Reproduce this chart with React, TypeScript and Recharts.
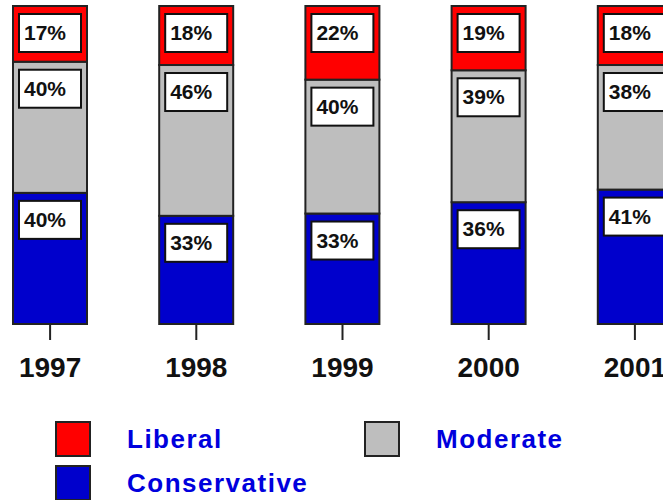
import { Bar, BarChart, XAxis, YAxis } from "recharts";

const years = ["1997", "1998", "1999", "2000", "2001"];
const liberal = [17, 18, 22, 19, 18];
const moderate = [40, 46, 40, 39, 38];
const conservative = [40, 33, 33, 36, 41];

const series = [
  { key: "conservative", name: "Conservative", color: "#0000CC", values: conservative },
  { key: "moderate", name: "Moderate", color: "#BEBEBE", values: moderate },
  { key: "liberal", name: "Liberal", color: "#FF0000", values: liberal },
];

const data = years.map((year, i) => ({
  year,
  liberal: liberal[i],
  moderate: moderate[i],
  conservative: conservative[i],
}));

// legend reads left to right, top to bottom
const legendOrder = ["liberal", "moderate", "conservative"];

const font = "'Liberation Sans', Arial, sans-serif";

function Segment(props: any) {
  const { x, y, width, height, fill, values, index } = props;
  return (
    <g>
      <rect x={x} y={y} width={width} height={height} fill={fill} stroke="#222" strokeWidth={2} />
      <rect x={x + 6} y={y + 8} width={62} height={38} fill="#fff" stroke="#111" strokeWidth={2} />
      <text x={x + 11} y={y + 34} fontFamily={font} fontWeight="bold" fontSize={21} fill="#111">
        {values[index]}%
      </text>
    </g>
  );
}

function YearTick(props: any) {
  const { x, y, payload } = props;
  return (
    <text x={x} y={y} dy={37} textAnchor="middle" fontFamily={font} fontWeight="bold" fontSize={28} fill="#111">
      {payload.value}
    </text>
  );
}

export default function App() {
  return (
    <div style={{ position: "absolute", left: 0, top: 0, width: 663, height: 500, overflow: "hidden", background: "#fff" }}>
      <div style={{ position: "absolute", left: -23, top: 0 }}>
        <BarChart
          width={731}
          height={390}
          data={data}
          stackOffset="expand"
          margin={{ top: 6, right: 0, bottom: 0, left: 0 }}
        >
          <XAxis
            dataKey="year"
            axisLine={false}
            tickSize={16}
            tickMargin={0}
            tickLine={{ stroke: "#222", strokeWidth: 2 }}
            tick={<YearTick />}
            height={66}
            interval={0}
          />
          <YAxis hide domain={[0, 1]} />
          {series.map((s) => (
            <Bar
              key={s.key}
              dataKey={s.key}
              stackId="a"
              fill={s.color}
              barSize={74}
              isAnimationActive={false}
              shape={(p: any) => <Segment {...p} fill={s.color} values={s.values} />}
            />
          ))}
        </BarChart>
      </div>
      {legendOrder.map((k, i) => {
        const s = series.find((e) => e.key === k)!;
        const col = i % 2;
        const row = Math.floor(i / 2);
        return (
          <div
            key={k}
            style={{
              position: "absolute",
              left: col === 0 ? 55 : 364,
              top: 421 + row * 44,
              display: "flex",
              alignItems: "center",
              height: 36,
            }}
          >
            <div style={{ width: 32, height: 32, background: s.color, border: "2px solid #222" }} />
            <span
              style={{
                marginLeft: 36,
                fontFamily: font,
                fontWeight: "bold",
                fontSize: 26,
                letterSpacing: 1.5,
                color: "#0000DD",
                whiteSpace: "nowrap",
              }}
            >
              {s.name}
            </span>
          </div>
        );
      })}
    </div>
  );
}
